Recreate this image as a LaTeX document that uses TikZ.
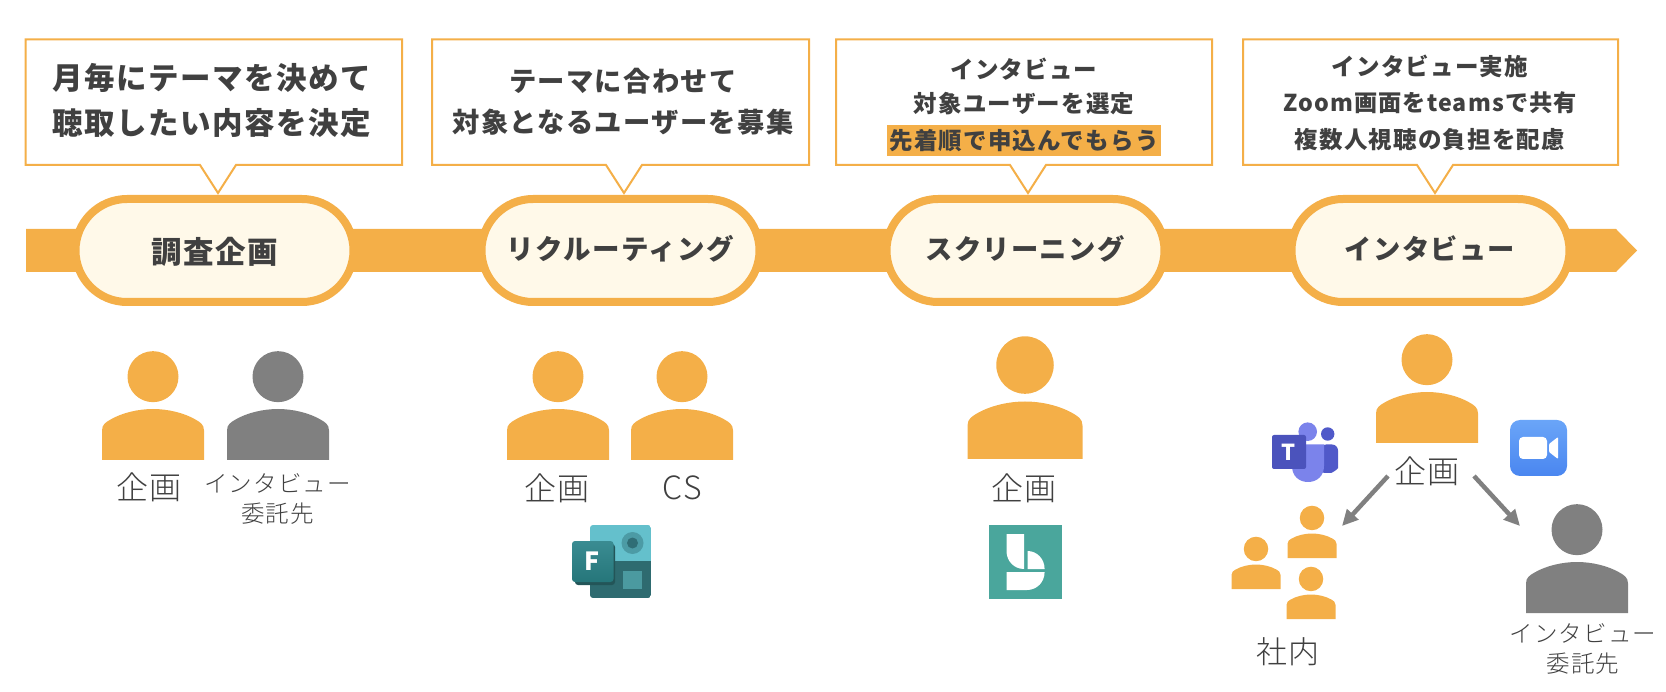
\documentclass[tikz,border=0pt]{standalone}
\usepackage{fontspec}
\setmainfont[LetterSpace=5]{Noto Sans CJK JP}
\newfontfamily\lightf[LetterSpace=5]{Noto Sans CJK JP Light}
\usetikzlibrary{shapes.misc,arrows.meta}
\definecolor{org}{HTML}{F4AF48}
\definecolor{cream}{HTML}{FFF9E9}
\definecolor{ink}{HTML}{404040}
\definecolor{gry}{HTML}{808080}
\newcommand{\fs}[1]{\fontsize{#1}{#1}\selectfont}
\newcommand{\persona}[4]{% cx, bottom, width, colour
  \begin{scope}[shift={(#1,#2)},x=#3pt,y=-#3pt]
    \fill[#4] (0,-0.817) circle[radius=0.25];
    \fill[#4] (-0.5,0) -- (-0.5,-0.29) .. controls (-0.5,-0.35) and (-0.46,-0.37) .. (-0.42,-0.395)
      .. controls (-0.30,-0.465) and (-0.14,-0.5) .. (0,-0.5)
      .. controls (0.14,-0.5) and (0.30,-0.465) .. (0.42,-0.395)
      .. controls (0.46,-0.37) and (0.5,-0.35) .. (0.5,-0.29) -- (0.5,0) -- cycle;
  \end{scope}}
\newcommand{\bubble}[3]{% left, right, tip
  \draw[org,line width=2pt,fill=white,line join=miter]
    (#1,39.5) -- (#2,39.5) -- (#2,165) -- (#3+18,165) -- (#3,193) -- (#3-18,165) -- (#1,165) -- cycle;}
\tikzset{
  pill/.style={rounded rectangle,draw=org,line width=8pt,fill=cream,minimum width=278pt,minimum height=103pt,
    inner xsep=0pt,text=ink},
  pilltext/.style={text=ink,font=\bfseries\fs{#1},inner sep=0pt},
  head/.style={text=ink,font=\bfseries\fs{#1},inner sep=0pt},
  lab/.style={text=ink,font=\lightf\fs{#1},inner sep=0pt},
  conn/.style={draw=gry,line width=4.5pt,-{Triangle[length=16pt,width=15pt]}}
}
\begin{document}
\begin{tikzpicture}[x=1pt,y=-1pt]
\useasboundingbox (0,0) rectangle (1666,692);
% band
\fill[org] (26,229) -- (1616,229) -- (1637,250.5) -- (1616,272) -- (26,272) -- cycle;
% bubbles
\bubble{25.5}{402}{218}
\bubble{432}{809}{624}
\bubble{836}{1212}{1028}
\bubble{1243}{1618}{1435}
% pills
\node[pill] (p1) at (214.5,250.5) {};
\node[pill] (p2) at (620.5,250.5) {};
\node[pill] (p3) at (1025.5,250.5) {};
\node[pill] (p4) at (1430.5,250.5) {};
\node[pilltext=30.5] (p1t) at (214.5,252) {調査企画};
\node[pilltext=27.5] (p2t) at (620.5,249) {リクルーティング};
\node[pilltext=27.3] (p3t) at (1025,249) {スクリーニング};
\node[pilltext=27.3] (p4t) at (1430,249) {インタビュー};
% bubble texts
\node[head=30.5] (t1a) at (212,77.5) {月毎にテーマを決めて};
\node[head=30.5] (t1b) at (212,123) {聴取したい内容を決定};
\node[head=27.3] (t2a) at (623,81) {テーマに合わせて};
\node[head=27.3] (t2b) at (623,122) {対象となるユーザーを募集};
\node[head=23.5] (t3a) at (1024,69) {インタビュー};
\node[head=23.5] (t3b) at (1024,104) {対象ユーザーを選定};
\node[head=23.5,fill=org,minimum width=274pt,minimum height=31pt] (t3c) at (1024,141) {先着順で申込んでもらう};
\node[head=23.5] (t4a) at (1430,66.5) {インタビュー実施};
\node[head=23.2] (t4b) at (1430,102.5) {Zoom画面をteamsで共有};
\node[head=23.5] (t4c) at (1430,140) {複数人視聴の負担を配慮};
% persons
\persona{153}{460}{102}{org}
\persona{278}{460}{102}{gry}
\persona{558}{460}{102}{org}
\persona{682}{460}{102}{org}
\persona{1025}{459}{115}{org}
\persona{1427}{443}{102}{org}
\persona{1577}{613}{102}{gry}
\persona{1312}{558}{49}{org}
\persona{1256}{589}{49}{org}
\persona{1311}{619}{49}{org}
% labels
\node[lab=32] (l1) at (149,487) {企画};
\node[lab=23.5] (l2a) at (277.5,483) {インタビュー};
\node[lab=23.5] (l2b) at (277.5,514) {委託先};
\node[lab=32] (l3) at (557,488) {企画};
\node[lab=32] (l4) at (682,488) {CS};
\node[lab=32] (l5) at (1024,488) {企画};
\node[lab=32] (l6) at (1427,471) {企画};
\node[lab=31] (l7) at (1288,652) {社内};
\node[lab=23.5] (l8a) at (1583,633) {インタビュー};
\node[lab=23.5] (l8b) at (1583,664) {委託先};
% connectors
\coordinate (g1) at (1342,526);
\coordinate (g2) at (1520,526);
\draw[conn] (l6.west) ++(-6,5) -- (g1);
\draw[conn] (l6.east) ++(14,5) -- (g2);
% Forms icon
\begin{scope}
  \clip[rounded corners=3pt] (590,525) rectangle (651,598);
  \fill[fill={rgb,255:red,100;green,192;blue,204}] (590,525) rectangle (651,561);
  \fill[fill={rgb,255:red,46;green,107;blue,112}] (590,561) rectangle (651,598);
\end{scope}
\fill[fill={rgb,255:red,76;green,155;blue,165}] (632.5,543) circle[radius=11pt];
\fill[fill={rgb,255:red,48;green,110;blue,118}] (632.5,543) circle[radius=5.5pt];
\fill[fill={rgb,255:red,75;green,154;blue,160}] (623,571) rectangle (642,589);
\fill[fill={rgb,255:red,35;green,85;blue,88},rounded corners=3pt] (575,544) rectangle (615,585);
\shade[top color={rgb,255:red,58;green,140;blue,146},bottom color={rgb,255:red,38;green,118;blue,122},rounded corners=3pt]
  (572,541) rectangle (613.5,582);
\node[text=white,font=\bfseries\fs{25},inner sep=0pt] (formsF) at (592,561.5) {F};
% Bookings icon
\fill[fill={rgb,255:red,74;green,166;blue,156}] (989,525) rectangle (1062,599);
\fill[white] (1006.5,534) -- (1024,534) -- (1024,569) .. controls (1014,569) and (1006.5,561) .. (1006.5,551) -- cycle;
\fill[white] (1027.5,551) .. controls (1037,551) and (1044.6,559) .. (1044.6,569) -- (1027.5,569) -- cycle;
\fill[white] (1006.5,572) -- (1044.6,572) .. controls (1044.6,582) and (1037,590) .. (1027,590) -- (1006.5,590) -- cycle;
% Teams icon
\fill[fill={rgb,255:red,80;green,89;blue,201}] (1327.7,434) circle[radius=6.7pt];
\fill[fill={rgb,255:red,80;green,89;blue,201},rounded corners=6pt] (1320,444.5) -- (1338,444.5) -- (1338,462) .. controls (1338,469) and (1332,473) .. (1325,473) -- (1320,473) -- cycle;
\fill[fill={rgb,255:red,123;green,131;blue,235}] (1307.7,431.7) circle[radius=9.3pt];
\fill[fill={rgb,255:red,123;green,131;blue,235}] (1292,444.5) -- (1324,444.5) -- (1324,466) .. controls (1324,476) and (1317,482) .. (1308,482) .. controls (1299,482) and (1292,476) .. (1292,466) -- cycle;
\fill[fill={rgb,255:red,75;green,83;blue,188},rounded corners=2pt] (1272,435) rectangle (1306,469);
\node[text=white,font=\bfseries\fs{22},inner sep=0pt] (teamsT) at (1289,452) {T};
% Zoom icon
\shade[top color={rgb,255:red,106;green,165;blue,248},bottom color={rgb,255:red,74;green,134;blue,240},rounded corners=10pt]
  (1510,420) rectangle (1567,476);
\fill[white,rounded corners=4pt] (1519,437) rectangle (1547,459);
\fill[white,rounded corners=1pt] (1549,444) -- (1558,437) -- (1558,459) -- (1549,452) -- cycle;
\end{tikzpicture}
\end{document}
